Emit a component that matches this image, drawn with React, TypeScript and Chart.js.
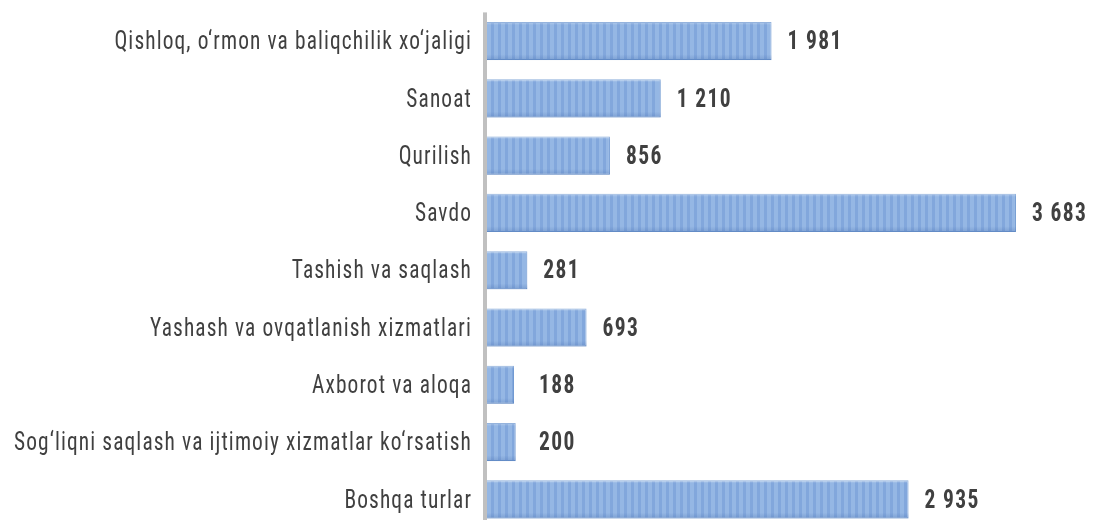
import { useEffect, useRef } from "react";
import { Chart, registerables } from "chart.js";

Chart.register(...registerables);

const categories = [
  "Qishloq, o‘rmon va baliqchilik xo‘jaligi",
  "Sanoat",
  "Qurilish",
  "Savdo",
  "Tashish va saqlash",
  "Yashash va ovqatlanish xizmatlari",
  "Axborot va aloqa",
  "Sog‘liqni saqlash va ijtimoiy xizmatlar ko‘rsatish",
  "Boshqa turlar",
];
const values = [1981, 1210, 856, 3683, 281, 693, 188, 200, 2935];
const xMax = 4000;

const FAMILY = '"Roboto Condensed", Roboto, sans-serif';

function fmt(v: number): string {
  return String(v).replace(/\B(?=(\d{3})+(?!\d))/g, " ");
}

function makePattern(): CanvasPattern | string {
  const c = document.createElement("canvas");
  c.width = 7;
  c.height = 4;
  const g = c.getContext("2d");
  if (!g) return "#8cb0e1";
  g.fillStyle = "#95b7e4";
  g.fillRect(0, 0, 7, 4);
  g.fillStyle = "#82a7dc";
  g.fillRect(0, 0, 3, 4);
  const p = g.createPattern(c, "repeat");
  return p || "#8cb0e1";
}

const labelPlugin = {
  id: "customLabels",
  afterDatasetsDraw(chart: any) {
    const ctx: CanvasRenderingContext2D = chart.ctx;
    const area = chart.chartArea;
    const yScale = chart.scales.y;
    ctx.save();
    // axis line
    ctx.fillStyle = "#c0c0c0";
    ctx.fillRect(area.left - 4, area.top, 4, area.bottom - area.top);
    // bar edge shading
    const meta = chart.getDatasetMeta(0);
    meta.data.forEach((bar: any) => {
      const h = bar.height;
      const top = bar.y - h / 2;
      const w = bar.x - area.left;
      const grad = ctx.createLinearGradient(0, top, 0, top + h);
      grad.addColorStop(0, "rgba(255,255,255,0.3)");
      grad.addColorStop(0.08, "rgba(255,255,255,0.0)");
      grad.addColorStop(0.85, "rgba(40,80,150,0.0)");
      grad.addColorStop(1, "rgba(40,80,150,0.22)");
      ctx.fillStyle = grad;
      ctx.fillRect(area.left, top, w, h);
    });
    // category labels
    ctx.fillStyle = "#404040";
    ctx.font = `400 25px ${FAMILY}`;
    (ctx as any).letterSpacing = "1.3px";
    ctx.textAlign = "right";
    ctx.textBaseline = "middle";
    categories.forEach((c, i) => {
      ctx.save();
      ctx.translate(area.left - 15, yScale.getPixelForValue(i) + 2);
      ctx.scale(0.855, 1);
      ctx.fillText(c, 0, 0);
      ctx.restore();
    });
    // value labels
    ctx.font = `700 25px ${FAMILY}`;
    (ctx as any).letterSpacing = "1.6px";
    ctx.textAlign = "left";
    meta.data.forEach((bar: any, i: number) => {
      const x = Math.max(bar.x + 16, area.left + 52);
      ctx.save();
      ctx.translate(x, bar.y + 2);
      ctx.scale(0.86, 1);
      ctx.fillText(fmt(values[i]), 0, 0);
      ctx.restore();
    });
    ctx.restore();
  },
};

export default function App() {
  const ref = useRef<HTMLCanvasElement | null>(null);
  useEffect(() => {
    if (!ref.current) return;
    const chart = new Chart(ref.current, {
      type: "bar",
      data: {
        labels: categories,
        datasets: [
          {
            data: values,
            backgroundColor: makePattern() as any,
            borderColor: "#719ad2",
            borderWidth: 1,
            barPercentage: 0.665,
            categoryPercentage: 1,
          },
        ],
      },
      options: {
        indexAxis: "y",
        animation: false,
        responsive: true,
        maintainAspectRatio: false,
        layout: { padding: { left: 479, right: 34.5, top: 4.4, bottom: 0 } },
        plugins: { legend: { display: false }, tooltip: { enabled: false } },
        scales: {
          x: { display: false, min: 0, max: xMax },
          y: { display: false },
        },
      },
      plugins: [labelPlugin],
    });
    return () => chart.destroy();
  }, []);
  return (
    <div style={{ position: "fixed", left: 8, top: 8, width: 1088, height: 520 }}>
      <canvas ref={ref} />
    </div>
  );
}
